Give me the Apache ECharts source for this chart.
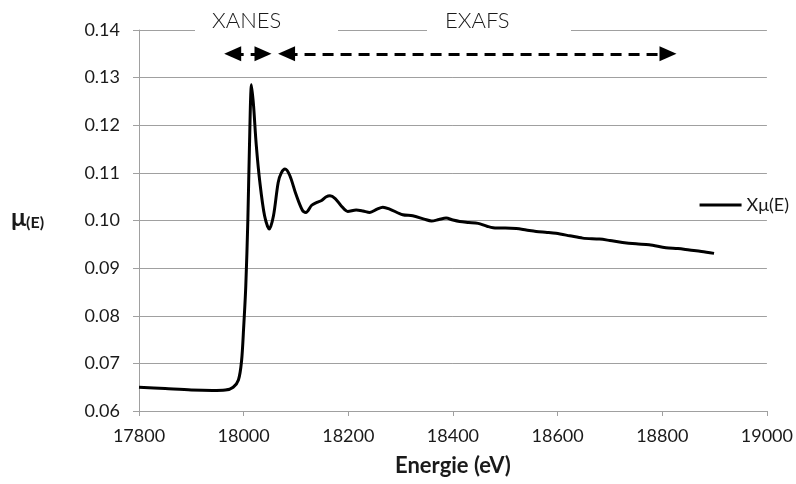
<!DOCTYPE html>
<html>
<head>
<meta charset="utf-8">
<script src="https://cdn.jsdelivr.net/npm/echarts@6/dist/echarts.min.js"></script>
<style>
  html, body { margin: 0; padding: 0; background: #fff; }
  #chart { width: 796px; height: 484px; }
</style>
</head>
<body>
<div id="chart"></div>
<script>
// Spektrum
const energie = [17800, 17850, 17900, 17940, 17965, 17980, 17990, 17996, 18000, 18004,
  18008, 18011, 18015, 18019, 18024, 18031, 18040, 18049, 18057, 18066,
  18072, 18079, 18088, 18100, 18112, 18119, 18130, 18140, 18149, 18158,
  18165, 18175, 18187, 18199, 18215, 18228, 18241, 18255, 18266, 18279,
  18304, 18323, 18345, 18359, 18373, 18387, 18400, 18413, 18430, 18448,
  18465, 18483, 18500, 18521, 18540, 18559, 18580, 18597, 18623, 18648,
  18680, 18700, 18724, 18750, 18775, 18807, 18830, 18852, 18875, 18899];
const mu = [0.0650, 0.0647, 0.0644, 0.0643, 0.0644, 0.0650, 0.0665, 0.0705, 0.0775, 0.0860,
  0.1000, 0.1150, 0.1285, 0.1240, 0.1160, 0.1080, 0.1010, 0.0982, 0.1010, 0.1080,
  0.1100, 0.1108, 0.1095, 0.1055, 0.1022, 0.1017, 0.1032, 0.1038, 0.1042, 0.1050,
  0.1052, 0.1046, 0.1030, 0.1019, 0.1022, 0.1020, 0.1017, 0.1024, 0.1028, 0.1024,
  0.1012, 0.1010, 0.1003, 0.0999, 0.1002, 0.1005, 0.1001, 0.0998, 0.0996, 0.0994,
  0.0988, 0.0984, 0.0984, 0.0983, 0.0980, 0.0977, 0.0975, 0.0973, 0.0968, 0.0963,
  0.0961, 0.0958, 0.0954, 0.0951, 0.0949, 0.0943, 0.0941, 0.0938, 0.0935, 0.0931];

// Pfeile für XANES / EXAFS (Energie von, bis, Höhe)
const xanesPfeil = [17979, 18037, 0.1350];
const exafsPfeil = [18082, 18811, 0.1350];

const fontFam = 'Lato, "Liberation Sans", sans-serif';
const grau = '#a0a0a0';
const schrift = '#1a1a1a';

const chart = echarts.init(document.getElementById('chart'));

const option = {
  animation: false,
  textStyle: { fontFamily: fontFam },
  grid: { left: 139, right: 28, top: 30, bottom: 73 },
  legend: {
    right: 2,
    top: 191,
    icon: 'rect',
    itemWidth: 42,
    itemHeight: 3,
    itemGap: 4,
    textStyle: { fontSize: 18, color: schrift, fontFamily: fontFam },
    data: ['Xμ(E)']
  },
  xAxis: {
    type: 'value',
    min: 17800,
    max: 19000,
    interval: 200,
    name: 'Energie (eV)',
    nameLocation: 'middle',
    nameGap: 44,
    nameTextStyle: { fontSize: 22, fontWeight: 'bold', color: schrift },
    axisLine: { lineStyle: { color: grau, width: 1 } },
    axisTick: { show: true, length: 5, inside: false, lineStyle: { color: grau } },
    axisLabel: { fontSize: 18, color: schrift, margin: 16, formatter: v => String(v) },
    splitLine: { show: false }
  },
  yAxis: {
    type: 'value',
    min: 0.06,
    max: 0.14,
    interval: 0.01,
    axisLine: { show: true, lineStyle: { color: grau, width: 1 } },
    axisTick: { show: true, length: 6, lineStyle: { color: grau } },
    axisLabel: { fontSize: 18, color: schrift, margin: 19, formatter: v => v.toFixed(2) },
    splitLine: { lineStyle: { color: grau, width: 1 } }
  },
  series: [{
    name: 'Xμ(E)',
    type: 'line',
    data: energie.map((e, i) => [e, mu[i]]),
    showSymbol: false,
    smooth: 0.3,
    lineStyle: { color: '#000', width: 3 },
    itemStyle: { color: '#000' },
    markLine: {
      silent: true,
      symbol: ['triangle', 'triangle'],
      symbolSize: [15, 17],
      label: { show: false },
      lineStyle: { color: '#000', width: 3, type: [11, 7] },
      data: [
        [{ coord: [xanesPfeil[0], xanesPfeil[2]] }, { coord: [xanesPfeil[1], xanesPfeil[2]] }],
        [{ coord: [exafsPfeil[0], exafsPfeil[2]] }, { coord: [exafsPfeil[1], exafsPfeil[2]] }]
      ]
    }
  }],
  graphic: [
    // Textfelder mit weißem Hintergrund über der obersten Gitterlinie
    { type: 'rect', left: 195, top: 8, shape: { width: 143, height: 36 }, style: { fill: '#fff' }, z: 10 },
    { type: 'text', left: 212, top: 10, z: 11,
      style: { text: 'XANES', font: '300 22px ' + fontFam, fill: schrift } },
    { type: 'rect', left: 427, top: 8, shape: { width: 144, height: 36 }, style: { fill: '#fff' }, z: 10 },
    { type: 'text', left: 445, top: 10, z: 11,
      style: { text: 'EXAFS', font: '300 22px ' + fontFam, fill: schrift } },
    // Y-Achsentitel
    { type: 'text', left: 11, top: 205, z: 11,
      style: {
        text: '{a|μ}{b|(E)}',
        rich: {
          a: { fontSize: 25, fontWeight: 'bold', fill: schrift, fontFamily: fontFam },
          b: { fontSize: 16, fontWeight: 'bold', fill: schrift, fontFamily: fontFam, padding: [10, 0, 0, 0] }
        }
      } }
  ]
};

chart.setOption(option);
</script>
</body>
</html>
